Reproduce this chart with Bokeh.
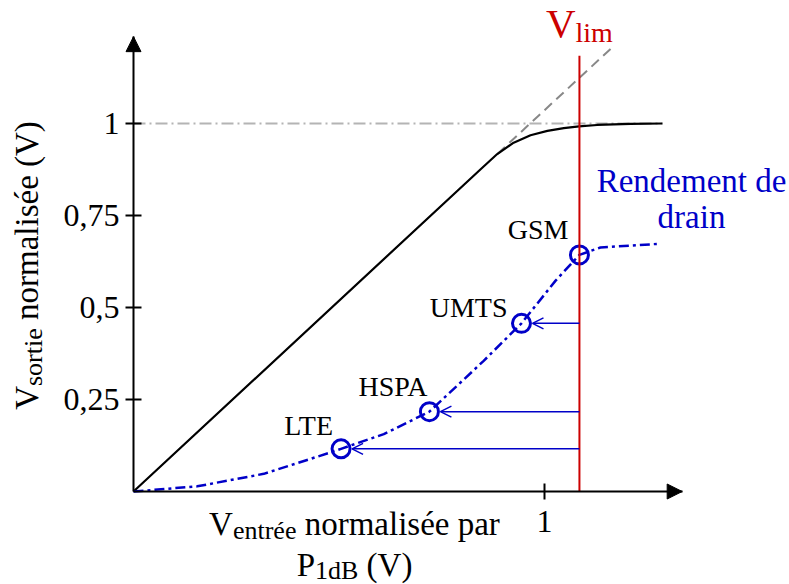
import math
from bokeh.plotting import figure
from bokeh.models import Range1d, FixedTicker, Label, Arrow, NormalHead, OpenHead, LinearAxis
from bokeh.embed import file_html
from bokeh.resources import INLINE

# ---------------- data ----------------
# normalised output voltage of the amplifier (black curve)
lin_x = [0.0, 0.844, 0.885, 0.925, 0.966, 1.007, 1.047, 1.084, 1.128, 1.209, 1.287]
lin_y = [0.0, 0.875, 0.917, 0.948, 0.968, 0.980, 0.9875, 0.992, 0.996, 0.999, 1.0]
# ideal linear extension (grey dashed)
ideal_x = [0.886, 1.161]
ideal_y = [0.918, 1.203]
# saturation level (grey dash-dot)
sat_x = [0.0, 1.287]
sat_y = [1.0, 1.0]
# drain efficiency (blue dash-dot)
eff_x = [0.0, 0.155, 0.317, 0.479, 0.505, 0.609, 0.720, 0.852, 0.944, 1.027, 1.085, 1.136, 1.277]
eff_y = [0.0, 0.014, 0.048, 0.106, 0.116, 0.156, 0.217, 0.355, 0.457, 0.573, 0.643, 0.663, 0.673]
# operating points of the standards
std_names = ["LTE", "HSPA", "UMTS", "GSM"]
std_x = [0.505, 0.720, 0.944, 1.085]
std_y = [0.116, 0.217, 0.457, 0.643]
# limit voltage
v_lim = 1.085
v_lim_top = 1.184
# axes
x_ticks = [1.0]
x_tick_labels = ["1"]
y_ticks = [0.25, 0.5, 0.75, 1.0]
y_tick_labels = ["0,25", "0,5", "0,75", "1"]
x_axis_end = 1.335
y_axis_end = 1.236

# ---------------- layout ----------------
W, H = 789, 584
PXX, PXY = 411.0, 368.0          # pixels per data unit
OX, OY = 133.0, 491.0            # canvas position of the origin
MID = 0.34                       # baseline -> text middle, in em

RED = "#cc0000"
BLUE = "#0000c8"
FONT = "Liberation Serif"

def X(px):
    return (px - OX) / PXX

def Y(py):
    return (OY - py) / PXY

CW = {'V': 722, 's': 389, 'o': 500, 'r': 333, 't': 278, 'i': 278, 'e': 444, 'é': 444,
      'n': 500, 'm': 778, 'a': 444, 'l': 278, ' ': 250, '(': 333, ')': 333, 'p': 500,
      'P': 556, '1': 500, 'd': 500, 'B': 667}

def tw(text, size):
    return sum(CW.get(c, 500) for c in text) * size / 1000.0

p = figure(width=W, height=H, output_backend="svg", toolbar_location=None,
           x_range=Range1d(X(0), X(W)), y_range=Range1d(Y(H), Y(0)),
           x_axis_location=None, y_axis_location=None,
           min_border_left=0, min_border_bottom=0, min_border_top=0, min_border_right=0)
p.outline_line_color = None
p.grid.visible = False
p.background_fill_color = "white"
p.border_fill_color = "white"

xaxis = LinearAxis(fixed_location=0, ticker=FixedTicker(ticks=x_ticks),
                   major_label_overrides=dict(zip(x_ticks, x_tick_labels)),
                   bounds=(0, x_axis_end), major_label_standoff=11)
yaxis = LinearAxis(fixed_location=0, ticker=FixedTicker(ticks=y_ticks),
                   major_label_overrides=dict(zip(y_ticks, y_tick_labels)),
                   bounds=(0, y_axis_end), major_label_standoff=6)
for ax in (xaxis, yaxis):
    ax.axis_line_width = 2
    ax.axis_line_color = "black"
    ax.major_tick_line_width = 2
    ax.major_tick_line_color = "black"
    ax.major_tick_in = 8
    ax.major_tick_out = 8
    ax.minor_tick_line_color = None
    ax.major_label_text_font = FONT
    ax.major_label_text_font_size = "32px"
    ax.major_label_text_color = "black"
p.add_layout(xaxis, "below")
p.add_layout(yaxis, "left")

# axis arrow heads
p.add_layout(Arrow(end=NormalHead(size=15, fill_color="black", line_color="black", line_width=1),
                   x_start=x_axis_end - 0.03, y_start=0, x_end=x_axis_end, y_end=0,
                   line_color="black", line_width=2))
p.add_layout(Arrow(end=NormalHead(size=15, fill_color="black", line_color="black", line_width=1),
                   x_start=0, y_start=y_axis_end - 0.03, x_end=0, y_end=y_axis_end,
                   line_color="black", line_width=2))

# curves
p.line(sat_x, sat_y, line_color="#b4b4b4", line_width=2, line_dash="12 4 2 4")
p.line(ideal_x, ideal_y, line_color="#888888", line_width=2, line_dash="10 6")
p.line(lin_x, lin_y, line_color="black", line_width=2.2)
p.line(eff_x, eff_y, line_color=BLUE, line_width=2.5, line_dash="10 4 3 4")
p.scatter(std_x, std_y, marker="circle", size=18, fill_color=None, line_color=BLUE, line_width=3)
p.line([v_lim, v_lim], [0, v_lim_top], line_color=RED, line_width=2)

# arrows from the limit line to the operating points
R_PX = 11.0
for xi, yi in zip(std_x[:3], std_y[:3]):
    p.add_layout(Arrow(end=OpenHead(size=11, line_color=BLUE, line_width=1.5),
                       x_start=v_lim, y_start=yi, x_end=xi + R_PX / PXX, y_end=yi,
                       line_color=BLUE, line_width=1.5))

def text_at(xp, base, t, size, color="black", align="left", angle=0.0):
    """place text t with its alphabetic baseline at canvas position (xp, base)"""
    if angle == 0.0:
        xa, ya = xp, base - MID * size
    else:
        xa, ya = xp - MID * size, base
    p.add_layout(Label(x=X(xa), y=Y(ya), text=t, text_align=align, text_baseline="middle",
                       text_font=FONT, text_font_size="%dpx" % size, text_color=color,
                       angle=angle))

# labels of the operating points
lab_off = [(-8, 14), (-2, 16), (-14, 6), (-11, 16)]
for name, xi, yi, (dx, dy) in zip(std_names, std_x, std_y, lab_off):
    text_at(OX + xi * PXX + dx, OY - yi * PXY - dy, name, 28, align="right")

# "Rendement de drain"
text_at(691, 192, "Rendement de", 33, color=BLUE, align="center")
text_at(691, 228, "drain", 33, color=BLUE, align="center")

def rich(parts, cx, base, horizontal=True, color="black"):
    """parts: (text, size, baseline shift px); leading spaces become gaps"""
    total = sum(tw(t, s) for t, s, _ in parts)
    pos = cx - total / 2.0 if horizontal else cx + total / 2.0
    for t, s, sh in parts:
        stripped = t.lstrip(" ")
        gap = tw(t[:len(t) - len(stripped)], s)
        if horizontal:
            text_at(pos + gap, base + sh, stripped, s, color=color)
            pos += tw(t, s)
        else:
            text_at(base + sh, pos - gap, stripped, s, color=color, angle=math.pi / 2)
            pos -= tw(t, s)

# V_lim
rich([("V", 41, 0), ("lim", 28, 6)], OX + v_lim * PXX, 36, color=RED)
# x axis title (two lines)
rich([("V", 33, 0), ("entrée", 26, 4), (" normalisée par", 33, 0)], 354, 535)
rich([("P", 33, 0), ("1dB", 26, 3), (" (V)", 33, 0)], 354, 576)
# y axis title (rotated)
rich([("V", 33, 0), ("sortie", 26, 4), (" normalisée (V)", 33, 0)], 265, 38, horizontal=False)

open("out.html", "w").write(file_html(p, INLINE))
